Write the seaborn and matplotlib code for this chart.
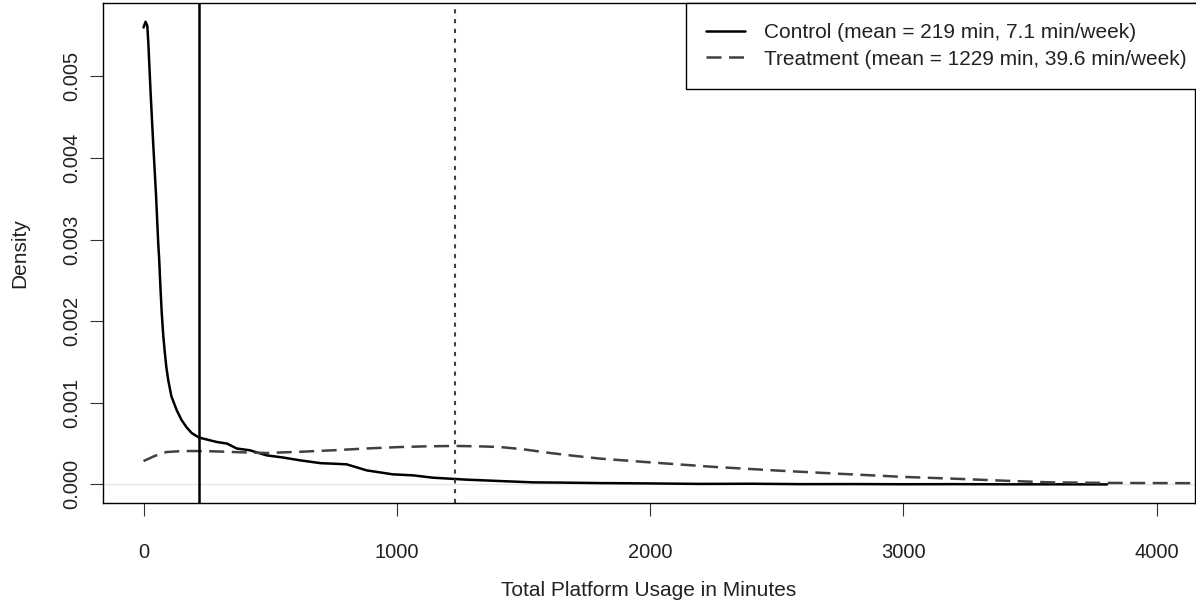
import matplotlib
matplotlib.use("Agg")
import matplotlib.pyplot as plt
import seaborn as sns
import pandas as pd

# ---- data ----
groups = ["Control", "Treatment"]
means_min = [219, 1229]
means_week = [7.1, 39.6]

control_x = [0, 8, 15, 19, 28, 38, 49, 58, 62, 67, 72, 78, 84, 90, 97.5, 110, 131, 150,
             170, 190, 219, 289, 330, 368, 420, 486, 550, 618, 700, 748, 802, 881, 985,
             1064, 1143, 1276, 1409, 1538, 1650, 1803, 2000, 2200, 2400, 2600, 2800,
             3000, 3200, 3400, 3600, 3805]
control_y = [5.60, 5.67, 5.62, 5.41, 4.80, 4.19, 3.57, 2.96, 2.75, 2.40, 2.10, 1.82,
             1.62, 1.44, 1.28, 1.08, 0.91, 0.79, 0.70, 0.63, 0.574, 0.52, 0.50, 0.44,
             0.418, 0.356, 0.33, 0.295, 0.26, 0.254, 0.246, 0.172, 0.123, 0.111, 0.082,
             0.058, 0.041, 0.025, 0.022, 0.016, 0.012, 0.006, 0.008, 0.003, 0.004,
             0.002, 0.003, 0.001, 0.001, 0.0]

treat_x = [0, 45, 91, 150, 210, 280, 353, 420, 486, 620, 748, 880, 1013, 1120, 1230,
           1320, 1408, 1500, 1605, 1700, 1803, 2000, 2250, 2500, 2750, 3000, 3200,
           3400, 3580, 3800, 4000, 4300]
treat_y = [0.286, 0.35, 0.397, 0.408, 0.409, 0.405, 0.397, 0.39, 0.385, 0.40, 0.418,
           0.44, 0.458, 0.467, 0.471, 0.467, 0.458, 0.43, 0.385, 0.35, 0.316, 0.27,
           0.215, 0.17, 0.13, 0.092, 0.07, 0.045, 0.025, 0.018, 0.016, 0.014]

x_ticks = [0, 1000, 2000, 3000, 4000]
y_ticks = [0.000, 0.001, 0.002, 0.003, 0.004, 0.005]

df = pd.concat([
    pd.DataFrame({"x": control_x, "density": [v / 1000 for v in control_y], "group": "Control"}),
    pd.DataFrame({"x": treat_x, "density": [v / 1000 for v in treat_y], "group": "Treatment"}),
], ignore_index=True)

sns.set_style("ticks")
plt.rcParams["font.family"] = ["Liberation Sans", "DejaVu Sans"]

fig = plt.figure(figsize=(11.96, 6.02), dpi=100)
ax = fig.add_axes([103 / 1196, 99 / 602, 1092 / 1196, 500 / 602])

ax.axhline(0, color="#e6e6e6", lw=1.0, zorder=0)

palette = {"Control": "black", "Treatment": "#404040"}
dashes = {"Control": "", "Treatment": (6, 3)}
sns.lineplot(data=df, x="x", y="density", hue="group", style="group",
             palette=palette, dashes=dashes, estimator=None, sort=True,
             lw=1.8, ax=ax, legend=False)

ax.axvline(means_min[0], color="black", lw=1.8)
ax.axvline(means_min[1], color="#404040", lw=1.5, ls=(0, (2, 2.7)))

ax.set_xlim(-160, 4152)
ax.set_ylim(-0.000228, 0.0059)
ax.set_xticks(x_ticks)
ax.set_xticklabels([str(t) for t in x_ticks])
ax.set_yticks(y_ticks)
ax.set_yticklabels([f"{t:.3f}" for t in y_ticks], rotation=90, va="center")

ax.tick_params(axis="both", direction="out", length=9.5, width=0.8,
               color="#333333", labelsize=14.5, labelcolor="#222222")
ax.tick_params(axis="x", pad=19)
ax.tick_params(axis="y", pad=6)

for s in ax.spines.values():
    s.set_visible(True)
    s.set_color("black")
    s.set_linewidth(1.0)
    s.set_zorder(5)

ax.set_xlabel("Total Platform Usage in Minutes", fontsize=15, labelpad=14, color="#222222")
ax.set_ylabel("Density", fontsize=15, labelpad=24, color="#222222")

handles = [
    plt.Line2D([], [], color=palette["Control"], lw=1.8),
    plt.Line2D([], [], color=palette["Treatment"], lw=1.8, ls=(0, (6, 3))),
]
labels = [f"{g} (mean = {m} min, {w} min/week)" for g, m, w in zip(groups, means_min, means_week)]
leg = ax.legend(handles, labels, loc="upper right", bbox_to_anchor=(1 + 12 / 1092, 1),
                borderaxespad=0, fontsize=15,
                frameon=True, fancybox=False, edgecolor="black", framealpha=1,
                handlelength=1.9, handletextpad=0.9, labelspacing=0.36,
                borderpad=0.97)
leg.get_frame().set_linewidth(1.0)
for t in leg.get_texts():
    t.set_color("#222222")

fig.savefig("out.png", dpi=100)
